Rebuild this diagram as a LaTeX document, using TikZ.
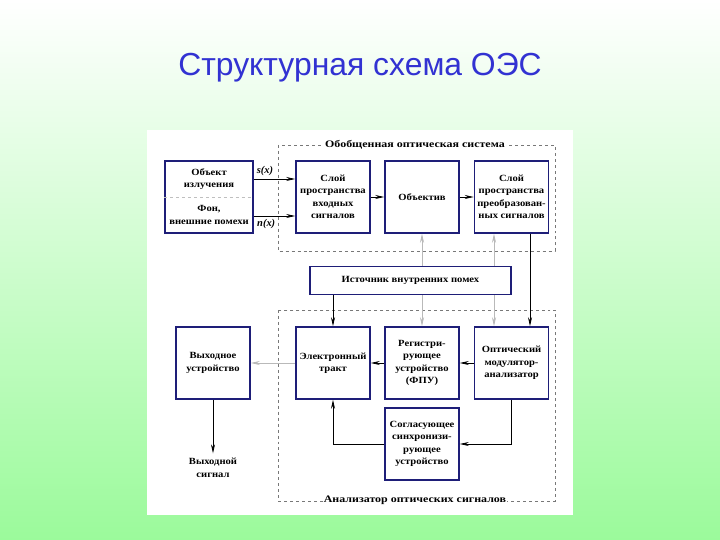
\documentclass[tikz,border=0pt]{standalone}
\usepackage{fontspec}
\setmainfont{Liberation Serif}
\newfontfamily\titlefont{Liberation Sans}
\newfontfamily\boxfont[FakeStretch=1.12]{Liberation Serif}
\newfontfamily\grpfont[FakeStretch=1.2]{Liberation Serif}
\usetikzlibrary{arrows.meta}
\definecolor{boxblue}{RGB}{30,30,120}
\definecolor{titleblue}{RGB}{50,50,210}
\definecolor{bggreen}{RGB}{155,250,155}
\definecolor{grpgray}{RGB}{120,120,120}

\begin{document}
\begin{tikzpicture}[x=1bp,y=-1bp,
  blk/.style={draw=boxblue, line width=1.6pt, fill=white, minimum width=74bp,
    minimum height=72bp, align=center, inner sep=1pt,
    font=\boxfont\fontsize{9.5}{12.5}\selectfont\bfseries},
  txt/.style={align=center, inner sep=1pt, font=\boxfont\fontsize{9.5}{12.5}\selectfont\bfseries},
  grp/.style={draw=grpgray, dashed, thin},
  grplabel/.style={fill=white, inner sep=1pt, font=\grpfont\fontsize{10}{12}\selectfont\bfseries},
  sig/.style={-{Stealth[length=9pt,width=4pt]}, line width=0.7pt},
  faint/.style={sig, draw=gray!55},
  siglabel/.style={font=\fontsize{10.5}{12}\selectfont\bfseries\itshape}]
\useasboundingbox (0,0) rectangle (720,540);
% background and panel
\shade[top color=white, bottom color=bggreen] (0,0) rectangle (720,540);
\fill[white] (147,130) rectangle (573,515);
\node[font=\titlefont\fontsize{32}{36}\selectfont, text=titleblue] (title) at (360,68) {Структурная схема ОЭС};
% groups
\draw[grp] (278,145) rectangle (555,251);
\draw[grp] (278,310) rectangle (555,501);
\node[grplabel] (sysname) at (415,145) {Обобщенная оптическая система};
\node[grplabel] (ananame) at (415,500) {Анализатор оптических сигналов};
% upper row
\node[blk, minimum width=88bp] (src) at (209,197) {};
\draw[dashed, gray!50] (src.west) -- (src.east);
\node[txt] (obj) at (209,179) {Объект\\излучения};
\node[txt] (bkg) at (209,215) {Фон,\\внешние помехи};
\node[blk] (inlay) at (333,197) {Слой\\пространства\\входных\\сигналов};
\node[blk] (lens) at (422,197) {Объектив};
\node[blk] (outlay) at (511.5,197) {Слой\\пространства\\преобразован-\\ных сигналов};
% noise source
\node[blk, minimum width=201bp, minimum height=28bp] (noise) at (410.5,280.5) {Источник внутренних помех};
% lower row
\node[blk] (outdev) at (213,363) {Выходное\\устройство};
\node[blk] (etr) at (333,363) {Электронный\\тракт};
\node[blk] (reg) at (422,363) {Регистри-\\рующее\\устройство\\(ФПУ)};
\node[blk] (optmod) at (511.5,363) {Оптический\\модулятор-\\анализатор};
\node[blk] (sync) at (422,444) {Согласующее\\синхронизи-\\рующее\\устройство};
\node[txt] (outsig) at (213,468) {Выходной\\сигнал};
% helper coordinates
\coordinate (g2) at (494,0);
\coordinate (d1) at (530,0);
% signals
\draw[sig] ([yshift=18bp]src.east) -- node[above, siglabel, pos=0.27] (slab) {s(x)} ([yshift=18bp]inlay.west);
\draw[sig] ([yshift=-19bp]src.east) -- node[below, siglabel, pos=0.3] (nlab) {n(x)} ([yshift=-19bp]inlay.west);
\draw[sig] (inlay.east) -- (lens.west);
\draw[sig] (lens.east) -- (outlay.west);
\draw[faint] (lens |- noise.north) -- (lens.south);
\draw[faint] (g2 |- noise.north) -- (g2 |- outlay.south);
\draw[faint] (reg |- noise.south) -- (reg.north);
\draw[faint] (g2 |- noise.south) -- (g2 |- optmod.north);
\draw[sig] (etr |- noise.south) -- (etr.north);
\draw[sig] (d1 |- outlay.south) -- (d1 |- optmod.north);
\draw[sig] (optmod.west) -- (reg.east);
\draw[sig] (reg.west) -- (etr.east);
\draw[faint] (etr.west) -- (outdev.east);
\draw[sig] (outdev.south) -- ([yshift=4bp]outsig.north);
\draw[sig] (optmod.south) |- (sync.east);
\draw[sig] (sync.west) -| (etr.south);
\end{tikzpicture}
\end{document}
